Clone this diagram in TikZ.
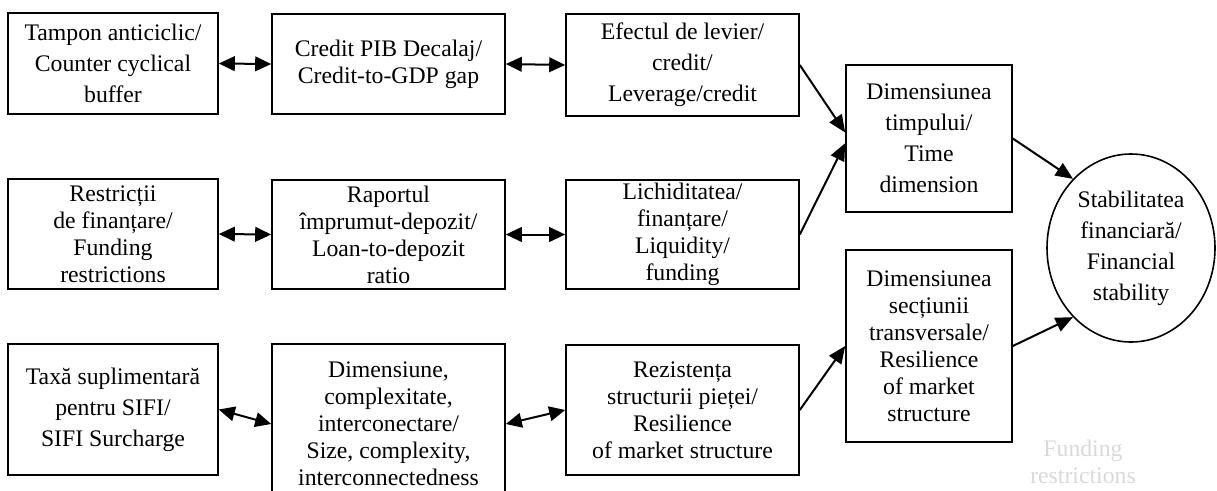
\documentclass[tikz,border=0pt]{standalone}
\usepackage{fontspec}
\setmainfont{Liberation Serif}
\usetikzlibrary{arrows.meta,shapes.geometric}

\begin{document}
\begin{tikzpicture}[x=0.75pt, y=-0.75pt,
  box/.style={draw, line width=1.2pt, align=center, inner sep=0pt,
    font=\fontsize{17.8pt}{20.3pt}\selectfont},
  loose/.style={font=\fontsize{17.8pt}{23.3pt}\selectfont},
  link/.style={line width=1.5pt, -{Triangle[length=13pt, width=11pt]}},
  both/.style={line width=1.5pt, {Triangle[length=12pt, width=11pt]}-{Triangle[length=12pt, width=11pt]}}]

\useasboundingbox (0,0) rectangle (1217,490);

\node[box, loose, minimum width=157.5pt, minimum height=75.75pt] (a1) at (113, 63.5) {Tampon anticiclic/\\Counter cyclical\\buffer};
\node[box, minimum width=174.75pt, minimum height=75pt] (a2) at (388.5, 64) {Credit PIB Decalaj/\\Credit-to-GDP gap};
\node[box, loose, minimum width=174.75pt, minimum height=76.5pt] (a3) at (682.5, 65) {Efectul de levier/\\credit/\\Leverage/credit};

\node[box, minimum width=157.5pt, minimum height=82.5pt] (b1) at (113, 234) {Restricții\\de finanțare/\\Funding\\restrictions};
\node[box, minimum width=174.75pt, minimum height=81.75pt] (b2) at (388.5, 234.5) {Raportul\\împrumut-depozit/\\Loan-to-depozit\\ratio};
\node[box, minimum width=174.75pt, minimum height=81.75pt] (b3) at (682.5, 234.5) {Lichiditatea/\\finanțare/\\Liquidity/\\funding};

\node[box, loose, minimum width=157.5pt, minimum height=98.25pt] (c1) at (113, 409.5) {Taxă suplimentară\\pentru SIFI/\\SIFI Surcharge};
\node[box, minimum width=174.75pt, minimum height=120pt] (c2) at (388.5, 424) {Dimensiune,\\complexitate,\\interconectare/\\Size, complexity,\\interconnectedness};
\node[box, minimum width=174.75pt, minimum height=97.5pt] (c3) at (682.5, 410) {Rezistența\\structurii pieței/\\Resilience\\of market structure};

\node[box, loose, minimum width=124.5pt, minimum height=110.25pt] (time) at (929, 138.5) {Dimensiunea\\timpului/\\Time\\dimension};
\node[box, minimum width=124.5pt, minimum height=144pt] (cross) at (929, 346) {Dimensiunea\\secțiunii\\transversale/\\Resilience\\of market\\structure};

\node[box, loose, ellipse, minimum width=126pt, minimum height=141pt] (fs) at (1131, 248) {Stabilitatea\\financiară/\\Financial\\stability};

\node[align=center, text=gray!30, inner sep=0pt, font=\fontsize{17.8pt}{20.3pt}\selectfont] (note) at (1083, 462) {Funding\\restrictions};

\draw[both] (a1.east) -- (a2.west);
\draw[both] (a2.east) -- (a3.west);
\draw[both] (b1.east) -- (b2.west);
\draw[both] (b2.east) -- (b3.west);
\draw[both] (c1.east) -- (c2.west);
\draw[both] (c2.east) -- (c3.west);

\draw[link] (a3.east) -- ([yshift=4.5pt]time.west);
\draw[link] (b3.east) -- ([yshift=-3.5pt]time.west);
\draw[link] (c3.east) -- (cross.west);
\draw[link] (time.east) -- (fs.130);
\draw[link] (cross.east) -- (fs.230);

\end{tikzpicture}
\end{document}
